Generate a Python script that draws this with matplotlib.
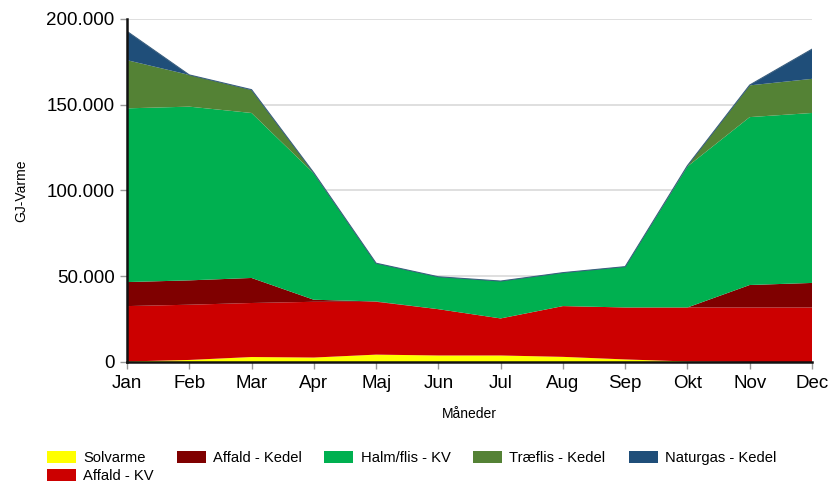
import numpy as np
import matplotlib
matplotlib.use("Agg")
from matplotlib import pyplot as plt
from matplotlib.ticker import FuncFormatter

plt.rcParams['font.family'] = ['Liberation Sans', 'DejaVu Sans']

# data (GJ per month)
months = ["Jan", "Feb", "Mar", "Apr", "Maj", "Jun", "Jul", "Aug", "Sep", "Okt", "Nov", "Dec"]
solvarme = [300, 1200, 2900, 2600, 4300, 3800, 3800, 3000, 1500, 300, 0, 0]
affald_kv = [32300, 32200, 31500, 32500, 30800, 27000, 21600, 29600, 30300, 31500, 31800, 31800]
affald_kedel = [14000, 14200, 14600, 1200, 200, 0, 0, 0, 0, 0, 13100, 14300]
halm_kv = [101300, 101300, 96200, 73700, 22300, 18900, 21800, 19500, 23800, 82200, 97900, 99100]
traeflis_kedel = [28100, 18500, 13400, 300, 0, 0, 0, 0, 0, 500, 18500, 19900]
naturgas_kedel = [16800, 0, 200, 0, 0, 0, 0, 0, 0, 0, 200, 17300]

labels = ["Solvarme", "Affald - KV", "Affald - Kedel", "Halm/flis - KV", "Træflis - Kedel", "Naturgas - Kedel"]
colors = ["#FFFF00", "#CC0000", "#7F0000", "#00B050", "#548235", "#1F4E79"]

x = np.arange(len(months))
series = [solvarme, affald_kv, affald_kedel, halm_kv, traeflis_kedel, naturgas_kedel]

fig = plt.figure(figsize=(8.31, 4.84), dpi=100)
ax = fig.add_axes([127/831, 1 - 362/484, (812 - 127)/831, (362 - 19)/484])

polys = ax.stackplot(x, *series, labels=labels, colors=colors, linewidth=0, zorder=2)
top = np.sum(np.array(series), axis=0)
ax.plot(x, top, color="#3B5F7F", linewidth=0.8, zorder=3)

ax.set_xlim(0, 11)
ax.set_ylim(0, 200000)
ax.set_yticks([0, 50000, 100000, 150000, 200000])
ax.yaxis.set_major_formatter(FuncFormatter(lambda v, p: f"{int(v):,}".replace(",", ".")))
ax.set_xticks(x)
ax.set_xticklabels(months)
ax.grid(axis="y", color="#D9D9D9", linewidth=1.2, zorder=0)
ax.set_axisbelow(True)

for s in ["top", "right"]:
    ax.spines[s].set_visible(False)
for s in ["left", "bottom"]:
    ax.spines[s].set_linewidth(1.8)
    ax.spines[s].set_color("#111111")
    ax.spines[s].set_zorder(4)
ax.tick_params(axis="both", direction="out", length=5, width=1, color="#999999",
               labelsize=13.5, pad=4)

ax.set_xlabel("Måneder", fontsize=10, labelpad=11)
ax.set_ylabel("GJ-Varme", fontsize=10, labelpad=13)

fig.legend(loc="upper left", bbox_to_anchor=(41/831, 1 - 445/484), ncol=5,
           frameon=False, fontsize=10.6, handlelength=1.97, handleheight=0.85,
           columnspacing=1.56, labelspacing=0.3, handletextpad=0.48,
           borderaxespad=0)

fig.savefig("out.png", dpi=100)
